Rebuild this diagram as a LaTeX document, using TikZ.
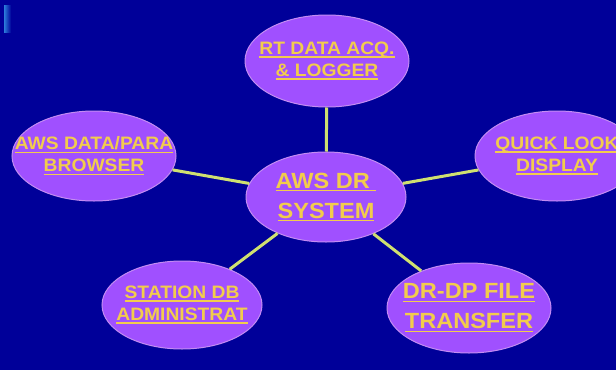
\documentclass[tikz,border=0pt]{standalone}
\usepackage{fontspec}
\usetikzlibrary{shapes.geometric}
\newfontfamily\lblfont{Liberation Sans}[FakeStretch=1.07]
\definecolor{slidebg}{HTML}{000099}
\definecolor{bubble}{HTML}{A050FF}
\definecolor{bubbleedge}{HTML}{C48CF2}
\definecolor{linkline}{HTML}{CFE070}
\definecolor{lbltext}{HTML}{F2CC4C}
\definecolor{accent}{HTML}{2C7CDC}
% underlined word group with a rule in the text colour
\newcommand\ulbl[1]{\setbox0=\hbox{#1}\copy0\llap{\rule[-3.2pt]{\wd0}{1.6pt}}}
\tikzset{
  bubblenode/.style={ellipse, fill=bubble, draw=bubbleedge, line width=1pt, inner sep=0pt},
  lblnode/.style={text=lbltext, align=center, inner sep=0pt,
    font=\lblfont\bfseries\fontsize{18}{22}\selectfont},
  biglbl/.style={lblnode, font=\lblfont\bfseries\fontsize{22}{30}\selectfont},
  link/.style={draw=linkline, line width=3pt}
}
\begin{document}
\begin{tikzpicture}[x=1pt, y=-1pt]
  \clip (0,0) rectangle (616,370);
  \fill[slidebg] (0,0) rectangle (616,370);
  \shade[left color=accent, right color=slidebg] (4,5) rectangle (11,32);

  % bubbles
  \node[bubblenode, minimum width=164pt, minimum height=92pt] (acq) at (327,61) {};
  \node[bubblenode, minimum width=160pt, minimum height=90pt] (hub) at (326,197) {};
  \node[bubblenode, minimum width=164pt, minimum height=90pt] (brw) at (94,156) {};
  \node[bubblenode, minimum width=164pt, minimum height=90pt] (qlk) at (557,156) {};
  \node[bubblenode, minimum width=160pt, minimum height=88pt] (stn) at (182,305) {};
  \node[bubblenode, minimum width=164pt, minimum height=90pt] (xfr) at (469,308) {};

  % connectors from the hub
  \draw[link] (hub) -- (acq);
  \draw[link] (hub) -- (brw);
  \draw[link] (hub) -- (qlk);
  \draw[link] (hub) -- (stn);
  \draw[link] (hub) -- (xfr);

  % labels
  \node[lblnode] (acqt) at (acq) {\ulbl{RT DATA ACQ.}\\\ulbl{\& LOGGER}};
  \node[biglbl] (hubt) at (hub) {\ulbl{AWS DR }\\\ulbl{SYSTEM}};
  \node[lblnode] (brwt) at (brw) {\ulbl{AWS DATA/PARA}\\\ulbl{BROWSER}};
  \node[lblnode] (qlkt) at (qlk) {\ulbl{QUICK LOOK}\\\ulbl{DISPLAY}};
  \node[lblnode] (stnt) at (stn) {\ulbl{STATION DB}\\\ulbl{ADMINISTRAT}};
  \node[biglbl] (xfrt) at (xfr) {\ulbl{DR-DP FILE}\\\ulbl{TRANSFER}};
\end{tikzpicture}
\end{document}
